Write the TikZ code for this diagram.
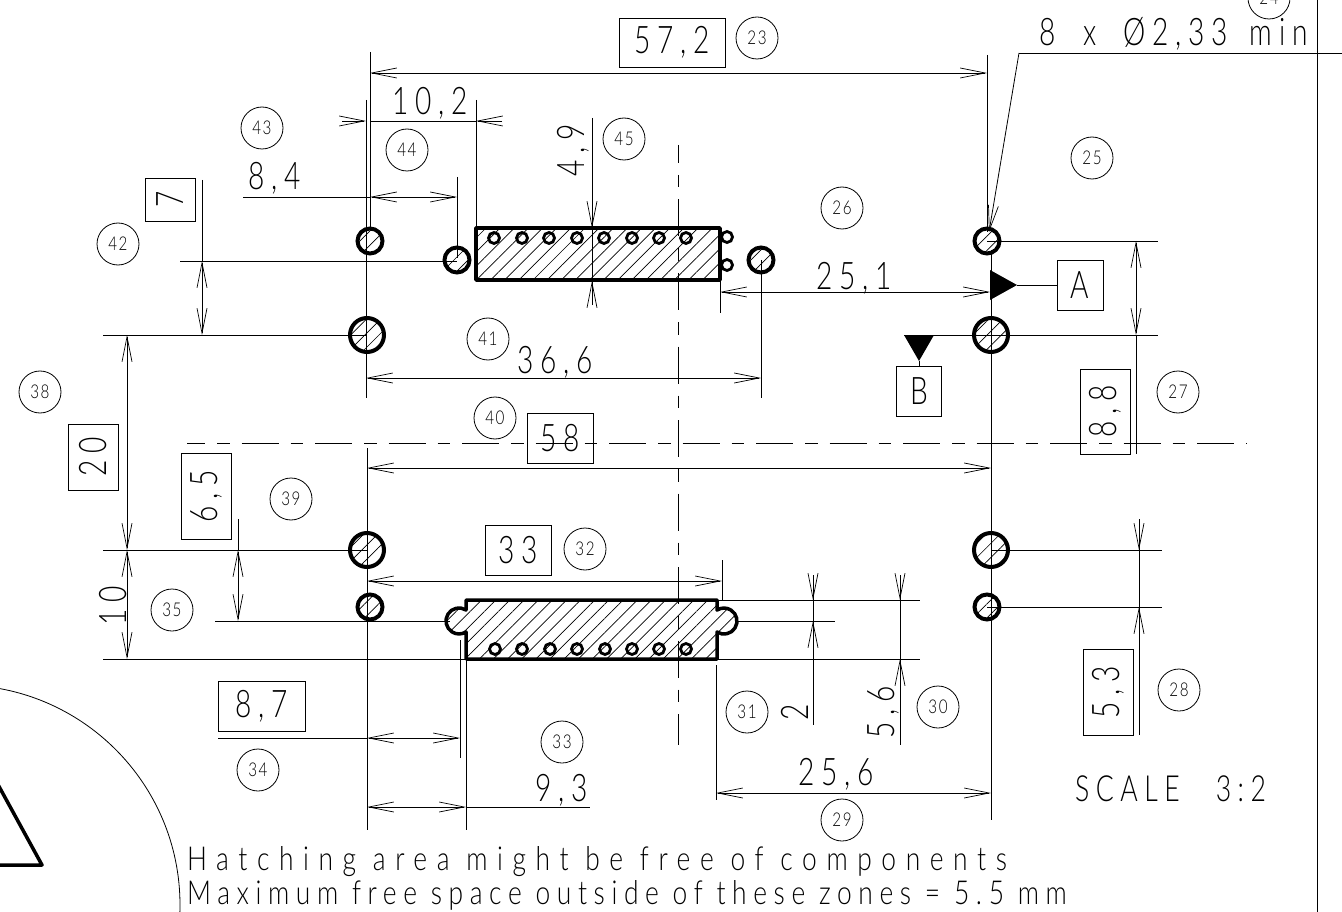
\documentclass[tikz,border=0pt]{standalone}
\usepackage{fontspec}
\usepackage{tikz}
\usetikzlibrary{arrows.meta}
\usetikzlibrary{patterns.meta}
\newfontfamily\cadfont{Lato Light}[FakeStretch=0.74,LetterSpace=18]
\newfontfamily\balloonfont{Lato Light}[FakeStretch=0.8,LetterSpace=8]
\newfontfamily\notefonta{Lato Light}[FakeStretch=0.8,LetterSpace=29]
\newfontfamily\notefontb{Lato Light}[FakeStretch=0.8,LetterSpace=20]
\tikzset{
  barb/.tip={Straight Barb[length=25pt,width=10pt,line width=0.7pt]},
  thin line/.style={line width=0.8pt},
  dimline/.style={thin line,barb-barb},
  thick line/.style={line width=3.5pt,line join=round},
  hatched/.style={pattern={Lines[angle=45,distance=10pt,line width=0.7pt]}},
  hole/.style={line width=4pt,hatched},
  pin/.style={line width=2.8pt},
  center line/.style={line width=0.8pt,dash pattern=on 37pt off 12pt on 12.5pt off 12pt,dash phase=19pt},
  dimtext/.style={inner sep=0pt,font=\cadfont\fontsize{38}{38}\selectfont},
  balloon/.style={circle,draw,line width=0.8pt,minimum size=42pt,inner sep=0pt,font=\balloonfont\fontsize{19}{19}\selectfont},
  framebox/.style={draw,line width=0.8pt,inner sep=0pt,font=\cadfont\fontsize{38}{38}\selectfont},
  note/.style={inner sep=0pt,anchor=base west,font=\notefonta\fontsize{33}{33}\selectfont}
}
\begin{document}
\begin{tikzpicture}[x=1pt,y=-1pt]
\useasboundingbox (0,0) rectangle (1342,912);
\begin{scope}
\clip (0,0) rectangle (1342,912);
% upper connector
\draw[thick line,hatched] (476,228) rectangle (720,280);
\foreach \x in {494,522,549,577,604,632,659,686}
  \draw[pin] (\x,238) circle (5.5);
\draw[pin] (727,237) circle (5.5);
\draw[pin] (727,265) circle (5.5);
% lower connector
\draw[thick line,hatched] (466,600) -- (466,610) arc[start angle=-57.5,end angle=-302.5,radius=13] -- (466,659) -- (717,659) -- (717,632) arc[start angle=122.5,end angle=-122.5,radius=13] -- (717,600) -- cycle;
\foreach \x in {495,522,550,577,605,632,659,686}
  \draw[pin] (\x,649) circle (5.5);
% center lines
\draw[center line] (187,443) -- (1247,443);
\draw[center line] (678,145) -- (678,745);
% holes
\foreach \x/\y in {370/241,457/260,761/260,987/241,370/607,987/607}
  \draw[hole] (\x,\y) circle (12.5);
\foreach \x/\y in {367/335,991/335,367/550,991/550}
  \draw[hole] (\x,\y) circle (17);
% witness lines
\draw[thin line] (370,52) -- (370,228);
\draw[thin line] (987,55) -- (987,232);
\draw[thin line] (366,100) -- (366,398);
\draw[thin line] (367,448) -- (367,830);
\draw[thin line] (991,250) -- (991,820);
\draw[thin line] (476,100) -- (476,226);
\draw[thin line] (457,177) -- (457,258);
\draw[thin line] (180,261) -- (457,261);
\draw[thin line] (103,335) -- (367,335);
\draw[thin line] (720,280) -- (720,313);
\draw[thin line] (761,260) -- (761,398);
\draw[thin line] (987,241) -- (1158,241);
\draw[thin line] (904,335) -- (1158,335);
\draw[thin line] (103,550) -- (367,550);
\draw[thin line] (103,659) -- (467,659);
\draw[thin line] (215,621) -- (450,621);
\draw[thin line] (991,550) -- (1162,550);
\draw[thin line] (987,607) -- (1162,607);
\draw[thin line] (722,560) -- (722,600);
\draw[thin line] (717,600) -- (920,600);
\draw[thin line] (735,621) -- (835,621);
\draw[thin line] (717,659) -- (920,659);
\draw[thin line] (716,665) -- (716,800);
\draw[thin line] (466,660) -- (466,830);
\draw[thin line] (460,640) -- (460,758);
% dimensions
\draw[dimline] (370,73) -- (987,73);
\draw[thin line] (370,121) -- (476,121);
\draw[thin line,-barb] (342,121) -- (366,121);
\draw[thin line,-barb] (502,121) -- (476,121);
\draw[thin line] (243,197) -- (370,197);
\draw[dimline] (370,197) -- (457,197);
\draw[dimline] (202,261) -- (202,335);
\draw[thin line] (202,180) -- (202,261);
\draw[thin line] (592,118) -- (592,305);
\draw[thin line,-barb] (592,200) -- (592,228);
\draw[thin line,-barb] (592,305) -- (592,281);
\draw[dimline] (720,292) -- (990,292);
\draw[dimline] (366,378) -- (761,378);
\draw[dimline] (367,468) -- (991,468);
\draw[dimline] (127,335) -- (127,550);
\draw[dimline] (127,550) -- (127,659);
\draw[dimline] (238,550) -- (238,621);
\draw[thin line] (238,519) -- (238,550);
\draw[dimline] (1136,241) -- (1136,335);
\draw[thin line] (1136,335) -- (1136,454);
\draw[thin line] (1139,519) -- (1139,735);
\draw[thin line,-barb] (1139,519) -- (1139,550);
\draw[thin line,-barb] (1139,640) -- (1139,607);
\draw[dimline] (367,581) -- (722,581);
\draw[thin line] (813,575) -- (813,725);
\draw[thin line,-barb] (813,575) -- (813,600);
\draw[thin line,-barb] (813,650) -- (813,621);
\draw[thin line] (900,575) -- (900,745);
\draw[thin line,-barb] (900,575) -- (900,600);
\draw[thin line,-barb] (900,688) -- (900,659);
\draw[dimline] (716,793) -- (991,793);
\draw[dimline] (367,807) -- (466,807);
\draw[thin line] (466,807) -- (590,807);
\draw[thin line] (218,738) -- (367,738);
\draw[dimline] (367,738) -- (460,738);
% leader
\draw[thin line] (1342,53) -- (1019,53);
\draw[thin line,-barb] (1019,53) -- (989,232);
% border
\draw[thin line] (1317,0) -- (1317,912);
% big circle with triangle
\draw[thin line] (-40,905) circle (220);
\draw[thick line] (-10,770) -- (42,865) -- (-10,865);
% datums
\node[framebox,minimum width=46,minimum height=50] (boxA) at (1080,285) {A};
\node[framebox,minimum width=45,minimum height=50] (boxB) at (919,391) {B};
\fill (990,270) -- (1017,285) -- (990,300) -- cycle;
\fill (904,335) -- (934,335) -- (919,361) -- cycle;
\draw[thin line] (1017,285) -- (boxA);
\draw[thin line] (919,361) -- (boxB);
% boxed dimensions
\node[framebox,minimum width=106,minimum height=49] (box572) at (672,42.5) {57,2};
\node[framebox,minimum width=50,minimum height=43] (box7) at (170,199.5) {\rotatebox{90}{7}};
\node[framebox,minimum width=66,minimum height=50] (box58) at (560,438) {58};
\node[framebox,minimum width=50,minimum height=66] (box20) at (93,457) {\rotatebox{90}{20}};
\node[framebox,minimum width=50,minimum height=86] (box65) at (206,496) {\rotatebox{90}{6,5}};
\node[framebox,minimum width=50,minimum height=85] (box88) at (1105,411.5) {\rotatebox{90}{8,8}};
\node[framebox,minimum width=66,minimum height=50] (box33) at (518,550) {33};
\node[framebox,minimum width=50,minimum height=86] (box53) at (1108,692) {\rotatebox{90}{5,3}};
\node[framebox,minimum width=87,minimum height=50] (box87) at (261.5,706) {8,7};
% plain dimensions
\node[dimtext] (dim102) at (430,103) {10,2};
\node[dimtext] (dim84) at (275,178) {8,4};
\node[dimtext,rotate=90] (dim49) at (573,150) {4,9};
\node[dimtext] (dim251) at (854,278) {25,1};
\node[dimtext] (dim366) at (555,362) {36,6};
\node[dimtext,rotate=90] (dim10) at (113,606) {10};
\node[dimtext,rotate=90] (dim2) at (795,712) {2};
\node[dimtext,rotate=90] (dim56) at (883,712) {5,6};
\node[dimtext] (dim256) at (836,774) {25,6};
\node[dimtext] (dim93) at (562,790) {9,3};
\node[dimtext,anchor=base east] (dimhole) at (1308,46) {8\hspace{28pt}x\hspace{26pt}\O 2,33\hspace{22pt}min};
\node[note,font=\cadfont\fontsize{36}{36}\selectfont] (scale) at (1075,801) {SCALE\hspace{36pt}3:2};
\node[note] (hatchnote) at (187,870) {Hatching area might be free of components};
\node[note,font=\notefontb\fontsize{33}{33}\selectfont] (freenote) at (187,904) {Maximum free space outside of these zones = 5.5 mm};
% balloons
\foreach \x/\y/\n in {757/38/23,1269/-2/24,1092/158/25,842/208/26,1178/392/27,1179/690/28,842/820/29,938/707/30,747/712/31,585/549/32,562/742/33,258/770/34,172/610/35,40/392/38,291/499/39,495/418/40,488/339/41,118/244/42,262/128/43,407/150/44,624/139/45}
  \node[balloon] (b\n) at (\x,\y) {\n};
\end{scope}
\end{tikzpicture}
\end{document}
